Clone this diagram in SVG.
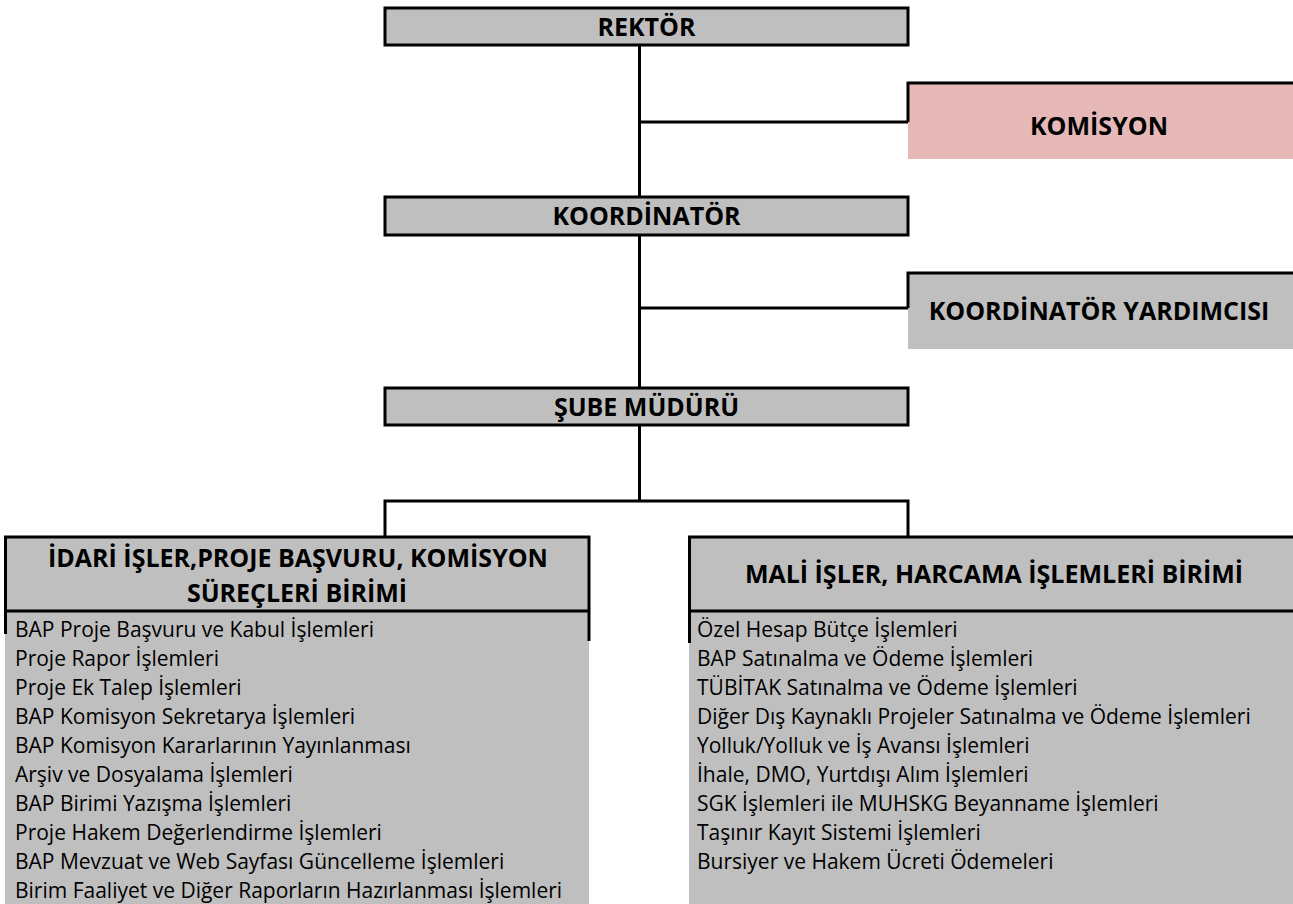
<svg xmlns="http://www.w3.org/2000/svg" width="1293" height="904" viewBox="0 0 1293 904">
<style>
.bg{fill:#ffffff}
.box{fill:#BFBFBF;stroke:#000;stroke-width:3}
.fill{fill:#BFBFBF;stroke:none}
.pink{fill:#E6B8B7;stroke:none}
.edge{fill:none;stroke:#000;stroke-width:3}
.h{font-family:'Open Sans','DejaVu Sans',sans-serif;font-weight:bold;font-size:25px;fill:#000;text-anchor:middle}
.t{font-family:'Open Sans','DejaVu Sans',sans-serif;font-size:21px;fill:#000}
</style>
<rect class="bg" x="0" y="0" width="1293" height="904"/>
<g id="connectors">
<path class="edge" d="M639.5,45 V197"/>
<path class="edge" d="M639.5,122 H908"/>
<path class="edge" d="M639.5,235 V388"/>
<path class="edge" d="M639.5,308 H908"/>
<path class="edge" d="M639.5,426 V501"/>
<path class="edge" d="M385,537 V501 H908 V537"/>
</g>
<g id="rektor">
<rect class="box" x="385" y="8" width="523" height="37"/>
<text class="h" x="646.5" y="36">REKTÖR</text>
</g>
<g id="komisyon">
<rect class="pink" x="908" y="83" width="385" height="76"/>
<path class="edge" d="M908,122 V83 H1293"/>
<text class="h" x="1099" y="135">KOMİSYON</text>
</g>
<g id="koordinator">
<rect class="box" x="385" y="197" width="523" height="38"/>
<text class="h" x="646.5" y="225">KOORDİNATÖR</text>
</g>
<g id="koordinator-yardimcisi">
<rect class="fill" x="908" y="273" width="385" height="76"/>
<path class="edge" d="M908,308 V273 H1293"/>
<text class="h" x="1099" y="320">KOORDİNATÖR YARDIMCISI</text>
</g>
<g id="sube-muduru">
<rect class="box" x="385" y="388" width="523" height="37"/>
<text class="h" x="646.5" y="415.5">ŞUBE MÜDÜRÜ</text>
</g>
<g id="idari-isler">
<rect class="fill" x="5" y="537" width="584" height="367"/>
<path class="edge" d="M5.5,634 V537 H589 V641"/>
<path class="edge" d="M5.5,611 H589"/>
<text class="h" x="298" y="567">İDARİ İŞLER,PROJE BAŞVURU, KOMİSYON</text>
<text class="h" x="297" y="601.5">SÜREÇLERİ BİRİMİ</text>
<text class="t" x="15" y="636.5">BAP Proje Başvuru ve Kabul İşlemleri</text>
<text class="t" x="15" y="665.5">Proje Rapor İşlemleri</text>
<text class="t" x="15" y="694.5">Proje Ek Talep İşlemleri</text>
<text class="t" x="15" y="723.5">BAP Komisyon Sekretarya İşlemleri</text>
<text class="t" x="15" y="752.5">BAP Komisyon Kararlarının Yayınlanması</text>
<text class="t" x="15" y="781.5">Arşiv ve Dosyalama İşlemleri</text>
<text class="t" x="15" y="810.5">BAP Birimi Yazışma İşlemleri</text>
<text class="t" x="15" y="839.5">Proje Hakem Değerlendirme İşlemleri</text>
<text class="t" x="15" y="868.5">BAP Mevzuat ve Web Sayfası Güncelleme İşlemleri</text>
<text class="t" x="15" y="897.5">Birim Faaliyet ve Diğer Raporların Hazırlanması İşlemleri</text>
</g>
<g id="mali-isler">
<rect class="fill" x="689" y="537" width="604" height="367"/>
<path class="edge" d="M689.5,643 V537 H1293"/>
<path class="edge" d="M689.5,611 H1293"/>
<text class="h" x="994" y="583">MALİ İŞLER, HARCAMA İŞLEMLERİ BİRİMİ</text>
<text class="t" x="697" y="636.5">Özel Hesap Bütçe İşlemleri</text>
<text class="t" x="697" y="665.5">BAP Satınalma ve Ödeme İşlemleri</text>
<text class="t" x="697" y="694.5">TÜBİTAK Satınalma ve Ödeme İşlemleri</text>
<text class="t" x="697" y="723.5">Diğer Dış Kaynaklı Projeler Satınalma ve Ödeme İşlemleri</text>
<text class="t" x="697" y="752.5">Yolluk/Yolluk ve İş Avansı İşlemleri</text>
<text class="t" x="697" y="781.5">İhale, DMO, Yurtdışı Alım İşlemleri</text>
<text class="t" x="697" y="810.5">SGK İşlemleri ile MUHSKG Beyanname İşlemleri</text>
<text class="t" x="697" y="839.5">Taşınır Kayıt Sistemi İşlemleri</text>
<text class="t" x="697" y="868.5">Bursiyer ve Hakem Ücreti Ödemeleri</text>
</g>
</svg>
